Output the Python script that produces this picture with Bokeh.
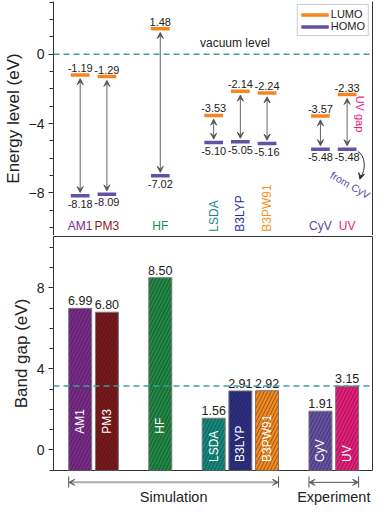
import math
from bokeh.plotting import figure
from bokeh.models import (ColumnDataSource, Span, Arrow, VeeHead, FixedTicker,
                          LinearAxis, Legend, LegendItem, Range1d)
from bokeh.layouts import column
from bokeh.embed import file_html
from bokeh.resources import INLINE
from bokeh.core.properties import value

# ---------------- data ----------------
groups = [["AM1", "PM3"], ["HF"], ["LSDA", "B3LYP", "B3PW91"], ["CyV", "UV"]]
group_kind = ["Simulation", "Simulation", "Simulation", "Experiment"]
lumo = [-1.19, -1.29, 1.48, -3.53, -2.14, -2.24, -3.57, -2.33]
homo = [-8.18, -8.09, -7.02, -5.10, -5.05, -5.16, -5.48, -5.48]
band_gap = [6.99, 6.80, 8.50, 1.56, 2.91, 2.92, 1.91, 3.15]
vertical_names = ["LSDA", "B3LYP", "B3PW91"]
energy_ticks = [-8, -4, 0]
gap_ticks = [0, 4, 8]

# ---------------- styles ----------------
FONT = value("Liberation Sans")
FONT_NAME = "Liberation Sans"
bar_colors = ["#7B2A8C", "#7D1719", "#1F8A43", "#138A80", "#2C2E86", "#F68B20", "#6650A6", "#EC1C7C"]
name_colors = ["#7B2A8C", "#8B1C1C", "#1F9043", "#158A7E", "#2E3192", "#F7941D", "#5A46A0", "#EC1C7A"]
LUMO_C = "#F7851E"
HOMO_C = "#6450A8"
TEAL = "#3A9E9E"
AX = "#333333"

methods = [m for g in groups for m in g]
xs = []
pos = 0
for g in groups:
    for m in g:
        xs.append(pos)
        pos += 1
    pos += 1

HALF = 0.35
src = ColumnDataSource(dict(
    x=xs, x0=[x - HALF for x in xs], x1=[x + HALF for x in xs],
    lumo=lumo, homo=homo, gap=band_gap,
    lumo_t=["%.2f" % v for v in lumo], homo_t=["%.2f" % v for v in homo],
    gap_t=["%.2f" % v for v in band_gap],
    ys=[v - 0.22 for v in lumo], ye=[v + 0.2 for v in homo],
    color=bar_colors, ncolor=name_colors, name=methods,
    inlab=[0.8 if v > 5 else -0.6 for v in band_gap],
))

XR = Range1d(-1.0, 10.95)
LB = 46
RB = 2


def style_yaxis(p, label, ticks, lo, hi):
    p.yaxis.axis_label = label
    p.yaxis.axis_label_text_font = FONT_NAME
    p.yaxis.axis_label_text_font_size = "17px"
    p.yaxis.axis_label_text_font_style = "normal"
    p.yaxis.axis_label_text_color = "#222"
    p.yaxis.axis_label_standoff = 3
    p.yaxis.major_label_text_font = FONT_NAME
    p.yaxis.major_label_text_font_size = "14px"
    p.yaxis.major_label_text_color = "#222"
    p.yaxis.major_label_standoff = 4
    p.yaxis.axis_line_color = AX
    p.yaxis.major_tick_line_color = AX
    p.yaxis.minor_tick_line_color = AX
    p.yaxis.major_tick_in = 0
    p.yaxis.major_tick_out = 5
    p.yaxis.minor_tick_in = 0
    p.yaxis.minor_tick_out = 4
    minors = [v for v in range(math.ceil(lo), math.floor(hi) + 1) if v not in ticks]
    p.yaxis.ticker = FixedTicker(ticks=ticks, minor_ticks=minors)


# ---------------- top panel: energy levels ----------------
top = figure(width=374, height=235, x_range=XR, y_range=Range1d(-10.47, 3.05),
             output_backend="svg", toolbar_location=None, title=None,
             min_border_left=LB, min_border_right=RB, min_border_top=1, min_border_bottom=0,
             outline_line_color=None)
top.xaxis.visible = False
top.grid.visible = False
style_yaxis(top, "Energy level (eV)", energy_ticks, -10.47, 3.05)
rax = LinearAxis(ticker=FixedTicker(ticks=[]), axis_line_color=AX,
                 major_tick_out=0, minor_tick_out=0, major_tick_in=0, minor_tick_in=0)
top.add_layout(rax, "right")

top.add_layout(Span(location=0, dimension="width", line_color=TEAL, line_dash="6 4", line_width=1.5))
top.text(x=[5.8], y=[0.25], text=["vacuum level"], text_font=FONT, text_font_size="12px",
         text_color="#222", text_align="center", text_baseline="bottom")

top.add_layout(Arrow(x_start="x", y_start="ys", x_end="x", y_end="ye", source=src,
                     start=VeeHead(size=6, fill_color="#555", line_color="#555", line_width=1),
                     end=VeeHead(size=6, fill_color="#555", line_color="#555", line_width=1),
                     line_color="#666", line_width=1))

r_l = top.segment(x0="x0", y0="lumo", x1="x1", y1="lumo", source=src, line_color=LUMO_C, line_width=3.5)
r_h = top.segment(x0="x0", y0="homo", x1="x1", y1="homo", source=src, line_color=HOMO_C, line_width=3.5)

top.text(x="x", y="lumo", text="lumo_t", source=src, text_font=FONT, text_font_size="11px",
         text_color="#222", text_align="center", text_baseline="bottom", y_offset=-3)
top.text(x="x", y="homo", text="homo_t", source=src, text_font=FONT, text_font_size="11px",
         text_color="#222", text_align="center", text_baseline="top", y_offset=4)

hsrc = ColumnDataSource(dict(x=[x for x, m in zip(xs, methods) if m not in vertical_names],
                             name=[m for m in methods if m not in vertical_names],
                             c=[c for c, m in zip(name_colors, methods) if m not in vertical_names]))
vsrc = ColumnDataSource(dict(x=[x for x, m in zip(xs, methods) if m in vertical_names],
                             name=[m for m in methods if m in vertical_names],
                             c=[c for c, m in zip(name_colors, methods) if m in vertical_names]))
top.text(x="x", y=-9.9, text="name", source=hsrc, text_color="c", text_font=FONT,
         text_font_size="12px", text_align="center", text_baseline="middle")
top.text(x="x", y=-10.25, text="name", source=vsrc, text_color="c", text_font=FONT,
         text_font_size="12px", text_align="left", text_baseline="middle", angle=math.pi / 2)

top.text(x=[10.5], y=[-3.45], text=["UV gap"], text_color="#EC1C7A", text_font=FONT,
         text_font_size="11px", text_align="center", text_baseline="middle", angle=-math.pi / 2)
top.text(x=[10.12], y=[-7.55], text=["from CyV"], text_color="#5A46A0", text_font=FONT,
         text_font_size="10.5px", text_align="center", text_baseline="middle", angle=-0.52)
top.bezier(x0=[10.4], y0=[-5.62], x1=[10.5], y1=[-7.1], cx0=[10.68], cy0=[-5.8],
           cx1=[10.72], cy1=[-6.7], line_color="#333", line_width=1)
top.add_layout(Arrow(x_start=10.52, y_start=-7.0, x_end=10.48, y_end=-7.22,
                     end=VeeHead(size=6, fill_color="#333", line_color="#333"),
                     line_color="#333", line_width=1))

legend = Legend(items=[LegendItem(label="LUMO", renderers=[r_l]),
                       LegendItem(label="HOMO", renderers=[r_h])],
                location="top_right", margin=3, padding=3, spacing=0,
                label_text_font=FONT_NAME, label_text_font_size="11px", label_text_color="#222",
                label_height=11, label_standoff=2, glyph_height=11, glyph_width=28,
                border_line_color="#999", border_line_width=1, background_fill_alpha=1)
top.add_layout(legend)

# ---------------- bottom panel: band gaps ----------------
GLO, GHI = -1.02, 10.54
bot = figure(width=374, height=236, x_range=XR, y_range=Range1d(GLO, GHI),
             output_backend="svg", toolbar_location=None, title=None,
             min_border_left=LB, min_border_right=RB, min_border_top=1, min_border_bottom=1,
             outline_line_color=AX, outline_line_width=1)
bot.xaxis.visible = False
bot.grid.visible = False
style_yaxis(bot, "Band gap (eV)", gap_ticks, GLO, GHI)

bot.vbar(x="x", top="gap", bottom=GLO - 1, width=0.86, source=src, fill_color="color",
         line_color="#777", line_width=1, hatch_pattern="/", hatch_color="#1a1a1a",
         hatch_alpha=0.7, hatch_scale=7, hatch_weight=0.7)
bot.add_layout(Span(location=band_gap[methods.index("UV")], dimension="width",
                    line_color=TEAL, line_dash="6 4", line_width=1.5))
bot.text(x="x", y="gap", text="gap_t", source=src, text_font=FONT, text_font_size="12.5px",
         text_color="#222", text_align="center", text_baseline="bottom", y_offset=-3)
bot.text(x="x", y="inlab", text="name", source=src, text_font=FONT, text_font_size="12px",
         text_color="white", text_align="left", text_baseline="middle", angle=math.pi / 2)

# ---------------- annotation strip ----------------
ann = figure(width=374, height=35, x_range=XR, y_range=Range1d(0, 1),
             output_backend="svg", toolbar_location=None, title=None,
             min_border_left=LB, min_border_right=RB, min_border_top=0, min_border_bottom=0,
             outline_line_color=None)
ann.axis.visible = False
ann.grid.visible = False

kinds = []
for g, k in zip(groups, group_kind):
    kinds += [k] * len(g)
for k, lc, lw in [("Simulation", "#AAAAAA", 2), ("Experiment", "#555555", 1)]:
    kx = [x for x, kk in zip(xs, kinds) if kk == k]
    a, b = min(kx) - 0.43, max(kx) + 0.43
    ann.add_layout(Arrow(x_start=a, y_start=0.69, x_end=b, y_end=0.69,
                         start=VeeHead(size=6, fill_color="#666", line_color="#666"),
                         end=VeeHead(size=6, fill_color="#666", line_color="#666"),
                         line_color=lc, line_width=lw))
    ann.segment(x0=[a, b], y0=[0.54, 0.54], x1=[a, b], y1=[0.86, 0.86], line_color="#555", line_width=1)
    ann.text(x=[(a + b) / 2], y=[0.27], text=[k], text_font=FONT, text_font_size="14.5px",
             text_color="#222", text_align="center", text_baseline="middle")

layout = column(top, bot, ann, spacing=0)
open("out.html", "w").write(file_html(layout, INLINE))
